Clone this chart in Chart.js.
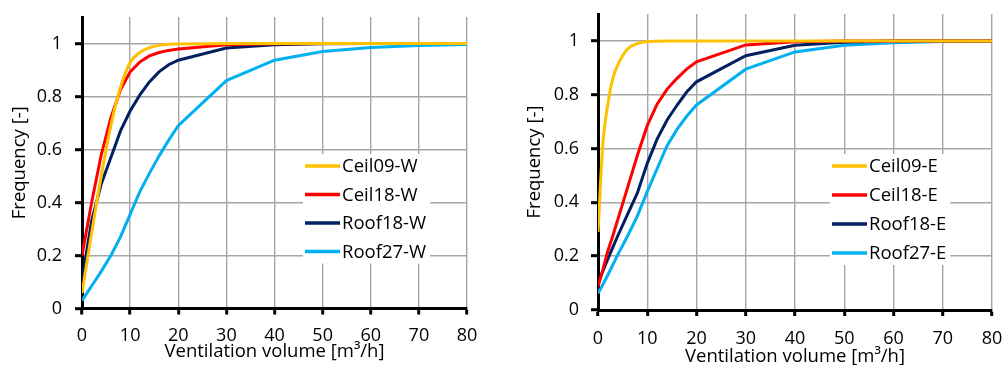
<!DOCTYPE html>
<html>
<head>
<meta charset="utf-8">
<script src="https://cdn.jsdelivr.net/npm/chart.js@4"></script>
<style>
  body { margin: 0; background: #fff; }
  .box { position: absolute; top: 0; height: 365px; }
</style>
</head>
<body>
<div class="box" style="left:0;width:500px"><canvas id="chartW"></canvas></div>
<div class="box" style="left:500px;width:505px"><canvas id="chartE"></canvas></div>
<script>
// West-side cases
const xsW = [0, 2, 4, 6, 8, 10, 12, 14, 16, 18, 20, 30, 40, 50, 60, 70, 80];
const ceil09W = [0.058, 0.285, 0.5, 0.69, 0.835, 0.928, 0.966, 0.984, 0.993, 0.997, 0.998, 1, 1, 1, 1, 1, 1];
const ceil18W = [0.2, 0.4, 0.58, 0.72, 0.825, 0.893, 0.93, 0.953, 0.966, 0.974, 0.979, 0.995, 0.999, 1, 1, 1, 1];
const roof18W = [0.11, 0.33, 0.47, 0.57, 0.67, 0.745, 0.805, 0.855, 0.893, 0.92, 0.937, 0.983, 0.995, 0.999, 1, 1, 1];
const roof27W = [0.03, 0.085, 0.14, 0.2, 0.27, 0.355, 0.44, 0.51, 0.575, 0.635, 0.69, 0.86, 0.937, 0.97, 0.985, 0.992, 0.996];

// East-side cases
const xsE = [0, 1, 2, 3, 4, 6, 8, 10, 12, 14, 16, 18, 20, 30, 40, 50, 60, 70, 80];
const ceil09E = [0.29, 0.62, 0.765, 0.86, 0.91, 0.97, 0.99, 0.997, 0.999, 1, 1, 1, 1, 1, 1, 1, 1, 1, 1];
const ceil18E = [0.087, 0.15, 0.22, 0.275, 0.335, 0.455, 0.575, 0.685, 0.765, 0.82, 0.86, 0.895, 0.922, 0.985, 0.997, 1, 1, 1, 1];
const roof18E = [0.1, 0.145, 0.19, 0.233, 0.275, 0.355, 0.435, 0.545, 0.635, 0.705, 0.76, 0.81, 0.848, 0.945, 0.984, 0.995, 1, 1, 1];
const roof27E = [0.062, 0.095, 0.13, 0.168, 0.205, 0.275, 0.35, 0.44, 0.525, 0.61, 0.67, 0.72, 0.762, 0.895, 0.959, 0.984, 0.993, 0.998, 1];

const labelsW = ["Ceil09-W", "Ceil18-W", "Roof18-W", "Roof27-W"];
const labelsE = ["Ceil09-E", "Ceil18-E", "Roof18-E", "Roof27-E"];
const colors = ["#FFC000", "#FF0000", "#002060", "#00B0F0"];

Chart.defaults.font.family = '"Open Sans", sans-serif';
Chart.defaults.font.size = 18;
Chart.defaults.color = "#000";

// legend drawn inside the plot, on a white box
const insideLegend = {
  id: "insideLegend",
  afterDatasetsDraw(chart, args, opts) {
    const ctx = chart.ctx;
    const sets = chart.data.datasets;
    ctx.save();
    ctx.font = '18.5px "Open Sans", sans-serif';
    let w = 0;
    sets.forEach(ds => { w = Math.max(w, ctx.measureText(ds.label).width); });
    ctx.fillStyle = "#fff";
    ctx.fillRect(opts.x - 2, opts.y - 12, 39 + w + 4, (sets.length - 1) * opts.gap + 24);
    ctx.textBaseline = "middle";
    sets.forEach((ds, i) => {
      const y = opts.y + i * opts.gap;
      ctx.strokeStyle = ds.borderColor;
      ctx.lineWidth = 3.5;
      ctx.beginPath();
      ctx.moveTo(opts.x, y);
      ctx.lineTo(opts.x + 35, y);
      ctx.stroke();
      ctx.fillStyle = "#000";
      ctx.fillText(ds.label, opts.x + 37, y + 1);
    });
    ctx.restore();
  }
};

function makeChart(id, xs, series, labels, lay) {
  const datasets = series.map((vals, i) => ({
    label: labels[i],
    data: vals.map((v, j) => ({ x: xs[j], y: v })),
    borderColor: colors[i],
    backgroundColor: colors[i],
    borderWidth: 3,
    pointRadius: 0,
    tension: 0,
    // the fast-saturating yellow curve is smooth in the original
    cubicInterpolationMode: i === 0 ? "monotone" : "default",
  }));
  return new Chart(document.getElementById(id), {
    type: "line",
    data: { datasets },
    plugins: [insideLegend],
    options: {
      responsive: true,
      maintainAspectRatio: false,
      animation: false,
      layout: { padding: { top: lay.top, right: lay.right, bottom: 0, left: 0 } },
      plugins: {
        legend: { display: false },
        tooltip: { enabled: false },
        insideLegend: lay.legend,
      },
      scales: {
        x: {
          type: "linear",
          min: 0,
          max: 80,
          ticks: { stepSize: 10, padding: lay.xPad },
          grid: { color: "#a6a6a6", lineWidth: 1.4, tickColor: "#000", tickWidth: 3, tickLength: 6 },
          border: { color: "#000", width: 3 },
          title: { display: true, text: "Ventilation volume [m³/h]", font: { size: 18.5 }, padding: { top: 0, bottom: lay.xTitle } },
          afterFit: s => { s.height = lay.xH; s.paddingLeft = 0; s.paddingRight = 0; },
        },
        y: {
          min: 0,
          max: 1.1,
          ticks: { stepSize: 0.2, includeBounds: false, padding: lay.yPad, callback: v => String(Math.round(v * 10) / 10) },
          grid: { color: "#a6a6a6", lineWidth: 1.4, tickColor: "#000", tickWidth: 3, tickLength: 7 },
          border: { color: "#000", width: 3 },
          title: { display: true, text: "Frequency [-]", font: { size: 18.5 }, padding: { top: lay.yTitle, bottom: 0 } },
          afterFit: s => { s.width = lay.yW; s.paddingTop = 0; s.paddingBottom = 0; },
        },
      },
    },
  });
}

makeChart("chartW", xsW, [ceil09W, ceil18W, roof18W, roof27W], labelsW, {
  top: 17, right: 33, xH: 56.5, yW: 82, xPad: 10.7, yPad: 13, xTitle: 2, yTitle: 9,
  legend: { x: 305, y: 166, gap: 28.5 },
});
makeChart("chartE", xsE, [ceil09E, ceil18E, roof18E, roof27E], labelsE, {
  top: 14, right: 13, xH: 55, yW: 98, xPad: 12.2, yPad: 12, xTitle: -3, yTitle: 24,
  legend: { x: 332, y: 166, gap: 29 },
});
</script>
</body>
</html>
